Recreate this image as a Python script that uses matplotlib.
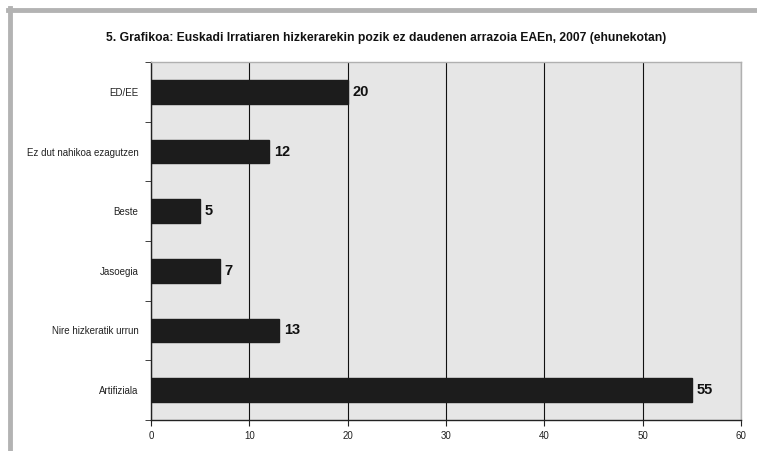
import matplotlib
matplotlib.use("Agg")
import matplotlib.pyplot as plt
from matplotlib.lines import Line2D
import numpy as np

categories = ["ED/EE", "Ez dut nahikoa ezagutzen", "Beste", "Jasoegia",
              "Nire hizkeratik urrun", "Artifiziala"]
values = [20, 12, 5, 7, 13, 55]
xticks = [0, 10, 20, 30, 40, 50, 60]
title = "5. Grafikoa: Euskadi Irratiaren hizkerarekin pozik ez daudenen arrazoia EAEn, 2007 (ehunekotan)"

plt.rcParams['font.family'] = ['Liberation Sans', 'DejaVu Sans']

fig = plt.figure(figsize=(7.57, 4.51), dpi=100)
W, H = 757, 451
ax = fig.add_axes([151 / W, 1 - 420 / H, (741 - 151) / W, (420 - 62) / H])
ax.set_facecolor('#e6e6e6')

n = len(categories)
ypos = np.arange(n)
ax.barh(ypos, values, height=0.4, color='#1c1c1c', edgecolor='#1c1c1c', zorder=3)
for y, v in zip(ypos, values):
    ax.text(v + 0.5, y, str(v), va='center', ha='left', fontsize=10.5,
            fontweight='bold', color='#111111', zorder=4)

ax.set_ylim(n - 0.5, -0.5)
ax.set_xlim(0, 60)
ax.set_xticks(xticks)
ax.set_xticklabels([str(t) for t in xticks], fontsize=7, color='#222222')
ax.set_yticks(ypos)
ax.set_yticklabels(categories, fontsize=7, color='#222222')
ax.tick_params(axis='y', length=0, pad=9)
ax.set_yticks(np.arange(n + 1) - 0.5, minor=True)
ax.tick_params(axis='y', which='minor', length=4, direction='out', color='#222222')
ax.tick_params(axis='x', length=4, direction='out', color='#222222', pad=4)

ax.grid(axis='x', color='#111111', linewidth=0.8, zorder=1)
ax.set_axisbelow(True)
for s in ['top', 'right']:
    ax.spines[s].set_color('#b0b0b0')
    ax.spines[s].set_linewidth(1.0)
for s in ['left', 'bottom']:
    ax.spines[s].set_color('#222222')
    ax.spines[s].set_linewidth(1.0)

fig.text(386 / W, 1 - 38 / H, title, ha='center', va='center', fontsize=8.7,
         fontweight='bold', color='#111111')

# frame lines
fig.add_artist(Line2D([8 / W, 1.0], [1 - 10 / H, 1 - 10 / H], transform=fig.transFigure,
                      color='#b3b3b3', linewidth=3.5))
fig.add_artist(Line2D([10 / W, 10 / W], [1 - 8 / H, 0], transform=fig.transFigure,
                      color='#b3b3b3', linewidth=3.5))

fig.savefig('out.png', dpi=100)
